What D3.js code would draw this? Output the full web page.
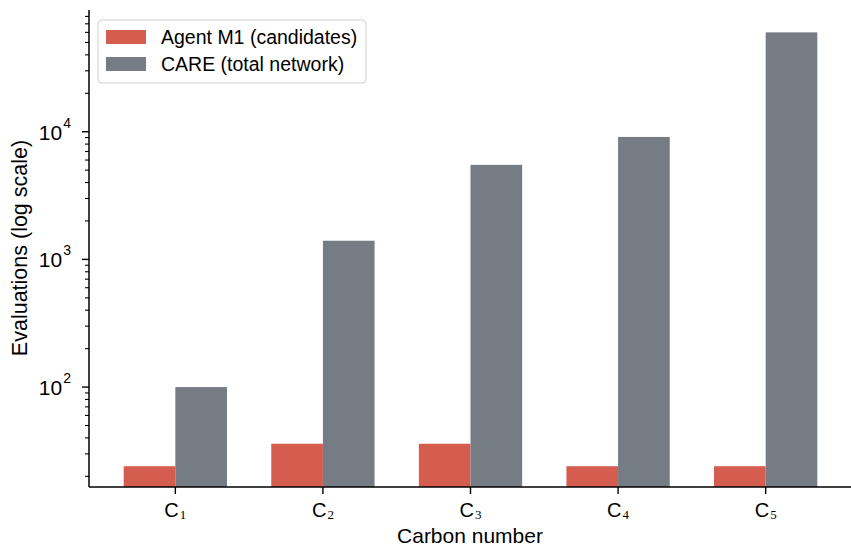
<!DOCTYPE html>
<html>
<head>
<meta charset="utf-8">
<script src="https://cdn.jsdelivr.net/npm/d3@7"></script>
<style>
  html, body { margin: 0; padding: 0; background: #fff; }
  svg { display: block; font-family: "Liberation Sans", Arial, sans-serif; }
</style>
</head>
<body>
<svg id="chart" width="851" height="548"></svg>
<script>
// Evaluations per carbon number
const categories = ["1", "2", "3", "4", "5"];           // subscript of C
const agentValues = [24, 36, 36, 24, 24];               // Agent M1 (candidates)
const careValues = [100, 1400, 5500, 9100, 60000];      // CARE (total network)
const seriesNames = ["Agent M1 (candidates)", "CARE (total network)"];
const seriesColors = ["#d45d50", "#767c84"];
const yMajorTicks = [100, 1000, 10000];

const svg = d3.select("#chart");
const margin = { left: 89, right: -1, top: 10, bottom: 61 };
const W = 851, H = 548;
const plotL = margin.left, plotR = W - margin.right, plotT = margin.top, plotB = H - margin.bottom;

// category positions: index space with bar width 0.35 each side
const x = d3.scaleLinear().domain([-0.585, 4.585]).range([plotL, plotR]);
const y = d3.scaleLog().domain([16.5, 89800]).range([plotB, plotT]);
const barW = 0.35;

const series = [agentValues, careValues];
series.forEach((vals, s) => {
  svg.append("g").selectAll("rect").data(vals).join("rect")
    .attr("x", (d, i) => x(i + (s === 0 ? -barW : 0)))
    .attr("width", x(barW) - x(0))
    .attr("y", d => y(d))
    .attr("height", d => plotB - y(d))
    .attr("fill", seriesColors[s]);
});

// Y axis with major + minor log ticks
const minorTicks = [];
for (let dec = 10; dec <= 100000; dec *= 10) {
  for (let m = 1; m < 10; m++) {
    const v = dec * m;
    if (m !== 1 && v >= y.domain()[0] && v <= y.domain()[1]) minorTicks.push(v);
  }
}
const yAxis = svg.append("g").attr("transform", `translate(${plotL},0)`);
yAxis.selectAll("line.minor").data(minorTicks).join("line")
  .attr("class", "minor")
  .attr("x1", -4).attr("x2", 0)
  .attr("y1", d => y(d)).attr("y2", d => y(d))
  .attr("stroke", "#000").attr("stroke-width", 1.1);
yAxis.selectAll("line.major").data(yMajorTicks).join("line")
  .attr("class", "major")
  .attr("x1", -7).attr("x2", 0)
  .attr("y1", d => y(d)).attr("y2", d => y(d))
  .attr("stroke", "#000").attr("stroke-width", 1.4);
const yLabels = yAxis.selectAll("text.tl").data(yMajorTicks).join("text")
  .attr("class", "tl")
  .attr("x", -18).attr("y", d => y(d) + 8)
  .attr("text-anchor", "end")
  .attr("font-size", 21)
  .attr("fill", "#000");
yLabels.append("tspan").text("10");
yLabels.append("tspan").attr("dy", -12).attr("dx", 1).attr("font-size", 14)
  .text(d => String(Math.round(Math.log10(d))));

// X axis
const xAxis = svg.append("g");
xAxis.selectAll("line").data(categories).join("line")
  .attr("x1", (d, i) => x(i)).attr("x2", (d, i) => x(i))
  .attr("y1", plotB).attr("y2", plotB + 7)
  .attr("stroke", "#000").attr("stroke-width", 1.4);
const xLabels = xAxis.selectAll("text").data(categories).join("text")
  .attr("x", (d, i) => x(i)).attr("y", plotB + 30)
  .attr("text-anchor", "middle")
  .attr("font-size", 20)
  .attr("fill", "#000");
xLabels.append("tspan").text("C");
xLabels.append("tspan").attr("dy", 2).attr("dx", 1).attr("font-size", 13)
  .attr("font-family", "'Liberation Serif', 'Times New Roman', serif")
  .text(d => d);

// spines
svg.append("line").attr("x1", plotL).attr("x2", plotL).attr("y1", plotT).attr("y2", plotB)
  .attr("stroke", "#000").attr("stroke-width", 1.5);
svg.append("line").attr("x1", plotL).attr("x2", plotR).attr("y1", plotB).attr("y2", plotB)
  .attr("stroke", "#000").attr("stroke-width", 1.5);

// axis titles
svg.append("text").attr("x", 470).attr("y", 543)
  .attr("text-anchor", "middle").attr("font-size", 21).text("Carbon number");
svg.append("text")
  .attr("transform", `translate(27,248) rotate(-90)`)
  .attr("text-anchor", "middle").attr("font-size", 21.5).text("Evaluations (log scale)");

// legend
const lg = svg.append("g").attr("transform", "translate(98,20)");
lg.append("rect").attr("width", 268).attr("height", 63).attr("rx", 4)
  .attr("fill", "#fff").attr("fill-opacity", 0.8)
  .attr("stroke", "#d0d0d0").attr("stroke-width", 1);
seriesNames.forEach((name, i) => {
  lg.append("rect").attr("x", 8).attr("y", 10 + i * 27).attr("width", 40).attr("height", 14)
    .attr("fill", seriesColors[i]);
  lg.append("text").attr("x", 63).attr("y", 24 + i * 27)
    .attr("font-size", 19.5).attr("fill", "#000").text(name);
});
</script>
</body>
</html>
